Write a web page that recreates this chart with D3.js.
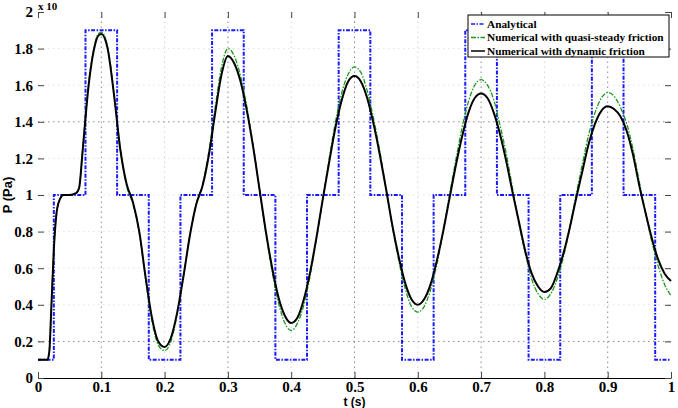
<!DOCTYPE html>
<html>
<head>
<meta charset="utf-8">
<script src="https://cdn.jsdelivr.net/npm/d3@7"></script>
<style>
  body { margin: 0; background: #fff; }
  svg { display: block; }
</style>
</head>
<body>
<div id="chart"></div>
<script>
// time samples (s) and pressures (x 10^5 Pa)
const tSec = [0, 0.01, 0.015, 0.018, 0.021, 0.025, 0.03, 0.035, 0.04, 0.05, 0.06, 0.065, 0.07, 0.075, 0.08, 0.085, 0.09, 0.095, 0.1,
  0.11, 0.12, 0.13, 0.14, 0.15, 0.16, 0.17, 0.18, 0.19, 0.2,
  0.21, 0.22, 0.23, 0.24, 0.25, 0.26, 0.27, 0.28, 0.29, 0.3,
  0.31, 0.32, 0.33, 0.34, 0.35, 0.36, 0.37, 0.38, 0.39, 0.4,
  0.41, 0.42, 0.43, 0.44, 0.45, 0.46, 0.47, 0.48, 0.49, 0.5,
  0.51, 0.52, 0.53, 0.54, 0.55, 0.56, 0.57, 0.58, 0.59, 0.6,
  0.61, 0.62, 0.63, 0.64, 0.65, 0.66, 0.67, 0.68, 0.69, 0.7,
  0.71, 0.72, 0.73, 0.74, 0.75, 0.76, 0.77, 0.78, 0.79, 0.8,
  0.81, 0.82, 0.83, 0.84, 0.85, 0.86, 0.87, 0.88, 0.89, 0.9,
  0.91, 0.92, 0.93, 0.94, 0.95, 0.96, 0.97, 0.98, 0.99, 1.0];

const pDynamic = [0.1, 0.1, 0.1, 0.15, 0.38, 0.70, 0.92, 0.98, 1.0, 1.0, 1.01, 1.04, 1.22, 1.42, 1.6, 1.73, 1.82, 1.87, 1.88,
  1.80, 1.55, 1.25, 1.06, 0.96, 0.80, 0.55, 0.33, 0.20, 0.17,
  0.22, 0.36, 0.56, 0.78, 0.95, 1.05, 1.22, 1.45, 1.66, 1.76,
  1.72, 1.62, 1.46, 1.26, 1.03, 0.80, 0.60, 0.44, 0.34, 0.30,
  0.33, 0.43, 0.58, 0.77, 0.98, 1.18, 1.37, 1.52, 1.62, 1.65,
  1.62, 1.53, 1.39, 1.22, 1.03, 0.83, 0.66, 0.52, 0.43, 0.40,
  0.43, 0.51, 0.64, 0.80, 0.98, 1.16, 1.32, 1.45, 1.53, 1.555,
  1.53, 1.45, 1.33, 1.18, 1.01, 0.85, 0.69, 0.57, 0.50, 0.47,
  0.49, 0.57, 0.68, 0.82, 0.98, 1.13, 1.28, 1.39, 1.46, 1.485,
  1.47, 1.43, 1.35, 1.22, 1.05, 0.90, 0.76, 0.645, 0.57, 0.53];

const pQuasi = [0.1, 0.1, 0.1, 0.15, 0.38, 0.70, 0.92, 0.98, 1.0, 1.0, 1.01, 1.04, 1.22, 1.43, 1.61, 1.74, 1.83, 1.88, 1.89,
  1.81, 1.56, 1.25, 1.05, 0.95, 0.79, 0.54, 0.31, 0.18, 0.15,
  0.20, 0.35, 0.56, 0.78, 0.95, 1.06, 1.24, 1.48, 1.70, 1.80,
  1.76, 1.65, 1.48, 1.27, 1.03, 0.79, 0.58, 0.41, 0.30, 0.26,
  0.30, 0.40, 0.56, 0.76, 0.98, 1.20, 1.40, 1.56, 1.66, 1.70,
  1.67, 1.57, 1.42, 1.24, 1.03, 0.82, 0.64, 0.49, 0.39, 0.36,
  0.39, 0.48, 0.62, 0.80, 1.00, 1.19, 1.37, 1.51, 1.60, 1.63,
  1.60, 1.52, 1.38, 1.22, 1.03, 0.84, 0.68, 0.54, 0.46, 0.43,
  0.46, 0.54, 0.66, 0.82, 1.00, 1.17, 1.33, 1.45, 1.53, 1.56,
  1.54, 1.48, 1.39, 1.25, 1.07, 0.90, 0.74, 0.61, 0.51, 0.45];

// analytical solution: piecewise constant
const stepT = [0, 0.025, 0.075, 0.125, 0.175, 0.225, 0.275, 0.325, 0.375, 0.425, 0.475, 0.525, 0.575, 0.625, 0.675, 0.725, 0.775, 0.825, 0.875, 0.925, 0.975, 1.0];
const stepP = [0.1, 1, 1.9, 1, 0.1, 1, 1.9, 1, 0.1, 1, 1.9, 1, 0.1, 1, 1.9, 1, 0.1, 1, 1.9, 1, 0.1, 0.1];

const xTicks = [0, 0.1, 0.2, 0.3, 0.4, 0.5, 0.6, 0.7, 0.8, 0.9, 1];
const yTicks = [0, 0.2, 0.4, 0.6, 0.8, 1, 1.2, 1.4, 1.6, 1.8, 2];
const legendLabels = ["Analytical", "Numerical with quasi-steady friction", "Numerical with dynamic friction"];

const width = 678, height = 408;
const margin = {top: 12, right: 7, bottom: 30, left: 38};
const serif = "'Liberation Serif', 'Times New Roman', serif";
const sans = "'Liberation Sans', Arial, sans-serif";

const svg = d3.select("#chart").append("svg")
    .attr("width", width)
    .attr("height", height);

const x = d3.scaleLinear().domain([0, 1]).range([margin.left, width - margin.right]);
const y = d3.scaleLinear().domain([0, 2]).range([height - margin.bottom, margin.top]);

const fmt = d => d === 0 ? "0" : String(+d.toFixed(1));

// grid (the print keeps some lines darker than others)
const strongX = [0.1, 0.3, 0.5, 0.7, 0.9];
const strongY = [0.2, 1.4];
const grid = svg.append("g");
grid.selectAll(".gx")
    .data(xTicks.filter(d => d > 0 && d < 1))
    .enter().append("line")
    .attr("x1", d => x(d)).attr("x2", d => x(d))
    .attr("y1", y(0)).attr("y2", y(2))
    .attr("stroke", d => strongX.includes(d) ? "#8a8a8a" : "#d4d4d4")
    .attr("stroke-width", 1)
    .attr("stroke-dasharray", "1.5,3.5");
grid.selectAll(".gy")
    .data(yTicks.filter(d => d > 0 && d < 2))
    .enter().append("line")
    .attr("x1", x(0)).attr("x2", x(1))
    .attr("y1", d => y(d)).attr("y2", d => y(d))
    .attr("stroke", d => strongY.includes(d) ? "#8a8a8a" : "#e2e2e2")
    .attr("stroke-width", 1)
    .attr("stroke-dasharray", "1.5,3.5");

// analytical
const stepLine = d3.line()
    .x(d => x(d[0])).y(d => y(d[1]))
    .curve(d3.curveStepAfter);
svg.append("path")
    .datum(d3.zip(stepT, stepP))
    .attr("fill", "none")
    .attr("stroke", "#1a1aff")
    .attr("stroke-width", 2)
    .attr("stroke-dasharray", "4,1.5,1.5,1.5")
    .attr("d", stepLine);

const line = d3.line()
    .x(d => x(d[0])).y(d => y(d[1]))
    .curve(d3.curveMonotoneX);

svg.append("path")
    .datum(d3.zip(tSec, pQuasi))
    .attr("fill", "none")
    .attr("stroke", "#1a9a1a")
    .attr("stroke-width", 1.3)
    .attr("stroke-dasharray", "5,1.5,1.5,1.5")
    .attr("d", line);

svg.append("path")
    .datum(d3.zip(tSec, pDynamic))
    .attr("fill", "none")
    .attr("stroke", "#000")
    .attr("stroke-width", 2)
    .attr("d", line);

// axes
const xAxis = svg.append("g")
    .attr("transform", `translate(0,${y(0)})`)
    .call(d3.axisBottom(x).tickValues(xTicks).tickFormat(fmt).tickSizeInner(-6).tickSizeOuter(0).tickPadding(3));
xAxis.select(".domain").attr("stroke", "#000").attr("stroke-width", 1.2);

const yAxis = svg.append("g")
    .attr("transform", `translate(${x(0)},0)`)
    .call(d3.axisLeft(y).tickValues(yTicks).tickFormat(fmt).tickSizeInner(-6).tickSizeOuter(0).tickPadding(5));
yAxis.select(".domain").remove();

[xAxis, yAxis].forEach(g => {
  g.selectAll(".tick line").attr("stroke", "#444");
  g.selectAll(".tick text")
      .style("font-family", serif)
      .style("font-weight", "bold")
      .style("font-size", "15px")
      .attr("fill", "#000");
});

// ticks on top and right
svg.append("g")
    .attr("transform", `translate(0,${y(2)})`)
    .call(d3.axisTop(x).tickValues(xTicks).tickFormat("").tickSizeInner(-6).tickSizeOuter(0))
    .call(g => g.select(".domain").remove())
    .selectAll(".tick line").attr("stroke", "#444");
svg.append("g")
    .attr("transform", `translate(${x(1)},0)`)
    .call(d3.axisRight(y).tickValues(yTicks).tickFormat("").tickSizeInner(-6).tickSizeOuter(0))
    .call(g => g.select(".domain").remove())
    .selectAll(".tick line").attr("stroke", "#444");

// exponent
svg.append("text")
    .attr("x", 38).attr("y", 10)
    .style("font-family", serif)
    .style("font-weight", "bold")
    .style("font-size", "11px")
    .text("x 10");

// axis titles
svg.append("text")
    .attr("x", (x(0) + x(1)) / 2).attr("y", 406)
    .attr("text-anchor", "middle")
    .style("font-family", sans)
    .style("font-weight", "bold")
    .style("font-size", "12px")
    .text("t (s)");

svg.append("text")
    .attr("transform", `translate(12,${y(1)}) rotate(-90)`)
    .attr("text-anchor", "middle")
    .style("font-family", sans)
    .style("font-weight", "bold")
    .style("font-size", "13px")
    .text("P (Pa)");

// legend
const lg = svg.append("g").attr("transform", "translate(468,15)");
lg.append("rect")
    .attr("width", 201).attr("height", 42)
    .attr("fill", "#fff")
    .attr("stroke", "#000")
    .attr("stroke-width", 1);
const legendStyles = [
  {color: "#1a1aff", dash: "4,1.5,1.5,1.5", w: 1.5},
  {color: "#1a9a1a", dash: "5,1.5,1.5,1.5", w: 1.3},
  {color: "#000", dash: null, w: 1.5}
];
legendLabels.forEach((label, i) => {
  const row = lg.append("g").attr("transform", `translate(0,${9 + i * 13.5})`);
  row.append("line")
      .attr("x1", 3).attr("x2", 17)
      .attr("stroke", legendStyles[i].color)
      .attr("stroke-width", legendStyles[i].w)
      .attr("stroke-dasharray", legendStyles[i].dash);
  row.append("text")
      .attr("x", 19).attr("dy", "0.35em")
      .style("font-family", serif)
      .style("font-weight", "bold")
      .style("font-size", "11.3px")
      .text(label);
});
</script>
</body>
</html>
